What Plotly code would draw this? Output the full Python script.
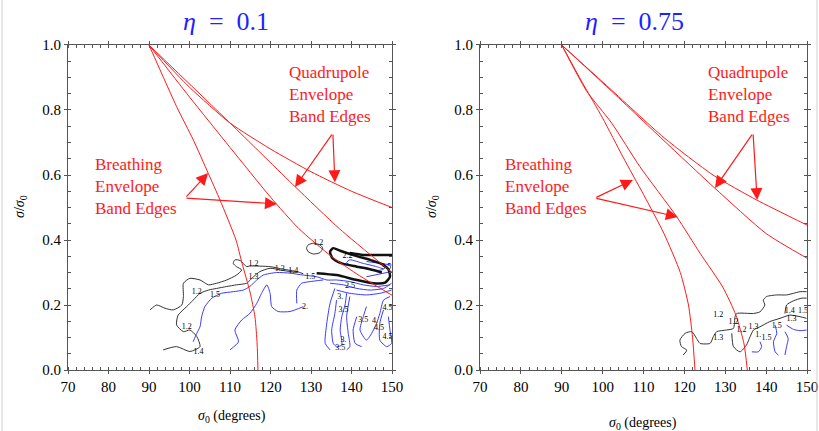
import plotly.graph_objects as go

# ---------------- data ----------------
# red band-edge curves, left panel (eta = 0.1)
L_BREATH1_X = [90, 96.84, 100.94, 104.64, 107.53, 111.48, 112.96, 114.94, 116.17, 116.7, 116.9]
L_BREATH1_Y = [1.0, 0.81, 0.708, 0.605, 0.523, 0.40, 0.329, 0.24, 0.163, 0.08, 0.0]
L_BREATH2_X = [90, 100, 110, 120, 127, 135, 142, 150]
L_BREATH2_Y = [1.0, 0.84, 0.685, 0.532, 0.435, 0.35, 0.29, 0.23]
L_QUAD1_X = [90, 110, 126, 137, 150]
L_QUAD1_Y = [1.0, 0.76, 0.565, 0.435, 0.30]
L_QUAD2_X = [90, 100, 110, 120, 130, 140, 150]
L_QUAD2_Y = [1.0, 0.87, 0.76, 0.68, 0.61, 0.55, 0.50]

# red band-edge curves, right panel (eta = 0.75)
R_BREATH1_X = [90, 95, 100, 105, 110, 115, 119, 121, 122, 122.6]
R_BREATH1_Y = [1.0, 0.885, 0.775, 0.655, 0.54, 0.42, 0.30, 0.20, 0.10, 0.0]
R_BREATH2_X = [90, 96, 102.2, 109.1, 118.1, 123.8, 129.4, 132.6, 134.6, 135.4]
R_BREATH2_Y = [1.0, 0.86, 0.76, 0.626, 0.472, 0.36, 0.255, 0.169, 0.08, 0.0]
R_QUAD1_X = [90, 101, 114.8, 127.5, 140, 150]
R_QUAD1_Y = [1.0, 0.872, 0.708, 0.559, 0.42, 0.344]
R_QUAD2_X = [90, 101, 115, 127, 137.7, 150]
R_QUAD2_Y = [1.0, 0.875, 0.715, 0.60, 0.523, 0.446]

# contour paths (x, y) pairs, left panel
LEFT_BLACK = [
    [(90.25, 0.185), (91.9, 0.20), (93.95, 0.19), (96.0, 0.185), (98.1, 0.20), (98.5, 0.226),
     (98.5, 0.267), (100.1, 0.282), (102.6, 0.277), (104.7, 0.262), (106.7, 0.267), (109.2, 0.277),
     (111.6, 0.292), (112.9, 0.308), (111.6, 0.318), (110.8, 0.328), (111.2, 0.339), (112.5, 0.337),
     (114.1, 0.318), (114.9, 0.32), (119.9, 0.318), (123.2, 0.31), (126.5, 0.303), (128.1, 0.296)],
    [(93.5, 0.062), (96.8, 0.072), (100.1, 0.057), (102.6, 0.072), (101.8, 0.103), (100.1, 0.123),
     (98.5, 0.118), (96.8, 0.139), (97.2, 0.169), (99.3, 0.195), (100.9, 0.215), (102.6, 0.236),
     (104.7, 0.246), (106.7, 0.251), (109.2, 0.257), (111.6, 0.262), (114.1, 0.267), (115.8, 0.287),
     (117.4, 0.303), (119.9, 0.313), (123.2, 0.306), (126.5, 0.30)],
    [(129.3, 0.385), (130.6, 0.39), (132.2, 0.385), (132.9, 0.375), (132.2, 0.361), (130.6, 0.357),
     (129.3, 0.364), (128.9, 0.375), (129.3, 0.385)],
]
LEFT_BLACK_THICK = [
    [(131.4, 0.298), (136.3, 0.292), (141.3, 0.277), (145.4, 0.267), (148.3, 0.269), (149.5, 0.287),
     (149.1, 0.31), (147.5, 0.326), (144.6, 0.339), (141.7, 0.349), (139.6, 0.357), (137.2, 0.367),
     (135.5, 0.375), (134.7, 0.364), (135.3, 0.344), (137.6, 0.328), (141.3, 0.318), (144.6, 0.31),
     (147.5, 0.30)],
    [(139.6, 0.36), (142.9, 0.354), (147.9, 0.354), (150.0, 0.354)],
]
LEFT_BLUE = [
    [(100.9, 0.087), (101.8, 0.113), (102.6, 0.133), (103.0, 0.164), (103.8, 0.195), (105.5, 0.221),
     (107.9, 0.236), (110.8, 0.241), (113.3, 0.246), (114.9, 0.257), (116.6, 0.277), (118.2, 0.292),
     (121.5, 0.30), (124.8, 0.298), (128.1, 0.292), (131.4, 0.287), (133.9, 0.277), (136.3, 0.277),
     (139.6, 0.272), (142.9, 0.262), (146.2, 0.257), (149.5, 0.262)],
    [(110.0, 0.062), (112.1, 0.087), (111.2, 0.123), (112.9, 0.154), (114.9, 0.174), (116.6, 0.205),
     (117.8, 0.236), (119.1, 0.262), (119.9, 0.236), (120.3, 0.195), (121.9, 0.18), (124.8, 0.18),
     (128.1, 0.195)],
    [(126.5, 0.205), (126.5, 0.246), (127.7, 0.267), (129.8, 0.272), (133.0, 0.277)],
    [(135.9, 0.251), (134.7, 0.205), (133.9, 0.144), (133.5, 0.082), (134.7, 0.062)],
    [(136.3, 0.215), (135.9, 0.174), (135.1, 0.123), (135.5, 0.082), (136.3, 0.072), (137.6, 0.077),
     (137.2, 0.123), (137.6, 0.164), (138.4, 0.20), (138.8, 0.236)],
    [(139.6, 0.226), (138.8, 0.164), (139.2, 0.113), (139.6, 0.072), (138.8, 0.062)],
    [(143.7, 0.195), (142.9, 0.164), (142.1, 0.123), (143.7, 0.092), (145.0, 0.113), (146.2, 0.144),
     (147.0, 0.174), (147.9, 0.215), (149.5, 0.226)],
    [(147.9, 0.185), (147.0, 0.144), (147.0, 0.092), (148.7, 0.072), (149.9, 0.082), (149.5, 0.123),
     (149.1, 0.164)],
    [(141.3, 0.164), (140.4, 0.123), (140.9, 0.082), (142.5, 0.072)],
    [(134.7, 0.267), (138.0, 0.262), (141.3, 0.251), (144.6, 0.246), (147.9, 0.251), (149.9, 0.267)],
    [(136.3, 0.246), (139.6, 0.236), (143.7, 0.231), (147.0, 0.236), (149.9, 0.246)],
    [(139.6, 0.339), (142.9, 0.328), (146.2, 0.318), (147.9, 0.31), (146.2, 0.306), (142.9, 0.313),
     (139.6, 0.323), (138.8, 0.331), (139.6, 0.339)],
    [(143.7, 0.334), (149.9, 0.323)],
    [(143.7, 0.287), (149.9, 0.303)],
]
LEFT_LABEL_X = [131.8, 139.0, 148.6, 139.6, 129.8, 122.3, 125.6, 115.8, 115.8, 101.8, 106.3, 99.3,
                102.2, 128.5, 137.2, 138.0, 142.9, 145.8, 146.8, 148.9, 148.9, 138.0, 137.2]
LEFT_LABEL_Y = [0.392, 0.352, 0.316, 0.257, 0.287, 0.312, 0.304, 0.325, 0.287, 0.241, 0.231, 0.133,
                0.056, 0.195, 0.226, 0.185, 0.154, 0.151, 0.128, 0.19, 0.103, 0.092, 0.067]
LEFT_LABEL_TEXT = ["1.2", "2.2", "3.5", "2.5", "1.5", "1.3", "1.4", "1.2", "1.3", "1.2", "1.5", "1.2",
                   "1.4", "2.", "3.", "3.5", "3.5", "4.", "4.5", "4.5", "4.5", "3.", "3.5"]

# contour paths, right panel
RIGHT_BLACK = [
    [(119.7, 0.046), (120.6, 0.061), (119.3, 0.072), (118.9, 0.092), (120.2, 0.113), (121.8, 0.118),
     (123.0, 0.097), (123.8, 0.082), (126.3, 0.082), (127.1, 0.103), (127.9, 0.118), (130.3, 0.123),
     (132.0, 0.128), (132.4, 0.164), (132.8, 0.174), (136.9, 0.174), (138.5, 0.179), (139.7, 0.20),
     (139.3, 0.215), (140.1, 0.226), (142.6, 0.231), (145.0, 0.231), (146.7, 0.236), (148.3, 0.241),
     (149.9, 0.241)],
    [(131.6, 0.113), (132.0, 0.072), (133.6, 0.056), (135.2, 0.077), (136.1, 0.103), (136.9, 0.123),
     (138.5, 0.133), (140.9, 0.149), (143.4, 0.159), (145.8, 0.169), (148.3, 0.164), (149.9, 0.159)],
    [(144.6, 0.174), (145.0, 0.20), (146.7, 0.213), (148.7, 0.221), (149.9, 0.221)],
]
RIGHT_BLUE = [
    [(136.5, 0.056), (138.1, 0.056), (138.9, 0.072), (138.5, 0.087)],
    [(142.2, 0.138), (142.6, 0.113), (141.8, 0.087), (142.2, 0.056), (143.0, 0.046)],
    [(144.6, 0.118), (145.4, 0.097), (145.0, 0.072), (144.6, 0.046)],
    [(145.0, 0.138), (146.7, 0.125), (148.3, 0.121), (149.9, 0.123)],
]
RIGHT_LABEL_X = [128.3, 132.0, 128.3, 134.0, 136.9, 138.1, 140.1, 142.6, 145.8, 149.0, 146.2]
RIGHT_LABEL_Y = [0.169, 0.149, 0.10, 0.123, 0.133, 0.108, 0.10, 0.135, 0.182, 0.182, 0.157]
RIGHT_LABEL_TEXT = ["1.2", "1.2", "1.3", "1.2", "1.3", "1.", "1.5", "1.5", "1.4", "1.5", "1.3"]

X_TICKS = [70, 80, 90, 100, 110, 120, 130, 140, 150]
Y_TICKS = [0.0, 0.2, 0.4, 0.6, 0.8, 1.0]

TITLES = ["<i>\u03b7</i>\u2002=\u20020.1", "<i>\u03b7</i>\u2002=\u20020.75"]
BAND_TEXT_Q = "Quadrupole<br>Envelope<br>Band Edges"
BAND_TEXT_B = "Breathing<br>Envelope<br>Band Edges"

# ---------------- figure ----------------
SERIF = "Times New Roman, Liberation Serif, Tinos, DejaVu Serif, serif"
RED = "#ff1a1a"
BLUE = "#3a3aff"
fig = go.Figure()


def add_line(xs, ys, xa, ya, color, width, shape="spline"):
    fig.add_trace(go.Scatter(x=xs, y=ys, mode="lines", xaxis=xa, yaxis=ya,
                             line=dict(color=color, width=width, shape=shape, smoothing=0.6),
                             hoverinfo="skip", showlegend=False))


def add_paths(paths, xa, ya, color, width):
    for p in paths:
        add_line([q[0] for q in p], [q[1] for q in p], xa, ya, color, width)


# left panel
add_paths(LEFT_BLUE, "x", "y", BLUE, 1)
add_paths(LEFT_BLACK, "x", "y", "#333333", 1)
add_paths(LEFT_BLACK_THICK, "x", "y", "#111111", 2.5)
for xs, ys in [(L_BREATH1_X, L_BREATH1_Y), (L_BREATH2_X, L_BREATH2_Y),
               (L_QUAD1_X, L_QUAD1_Y), (L_QUAD2_X, L_QUAD2_Y)]:
    add_line(xs, ys, "x", "y", RED, 1)
fig.add_trace(go.Scatter(x=LEFT_LABEL_X, y=LEFT_LABEL_Y, text=LEFT_LABEL_TEXT, mode="text",
                         textfont=dict(family=SERIF, size=8, color="black"), xaxis="x", yaxis="y",
                         hoverinfo="skip", showlegend=False))

# right panel
add_paths(RIGHT_BLUE, "x2", "y2", BLUE, 1)
add_paths(RIGHT_BLACK, "x2", "y2", "#333333", 1)
for xs, ys in [(R_BREATH1_X, R_BREATH1_Y), (R_BREATH2_X, R_BREATH2_Y),
               (R_QUAD1_X, R_QUAD1_Y), (R_QUAD2_X, R_QUAD2_Y)]:
    add_line(xs, ys, "x2", "y2", RED, 1)
fig.add_trace(go.Scatter(x=RIGHT_LABEL_X, y=RIGHT_LABEL_Y, text=RIGHT_LABEL_TEXT, mode="text",
                         textfont=dict(family=SERIF, size=8, color="black"), xaxis="x2", yaxis="y2",
                         hoverinfo="skip", showlegend=False))

AX = "#555555"


def xaxis_style(domain, anchor):
    return dict(domain=domain, anchor=anchor, range=[70, 150], tickvals=X_TICKS, ticks="outside",
                ticklen=3, tickcolor=AX, showline=True, linecolor=AX, linewidth=1, mirror="ticks",
                showgrid=False, zeroline=False,
                minor=dict(dtick=2, tick0=70, ticks="inside", ticklen=3, tickcolor=AX),
                tickfont=dict(family=SERIF, size=15, color="black"))


def yaxis_style(anchor):
    return dict(domain=[0.1415, 0.8956], range=[0, 1], tickvals=Y_TICKS, tickformat=".1f",
                ticks="outside", ticklen=3, tickcolor=AX, showline=True, linecolor=AX, linewidth=1,
                mirror="ticks", showgrid=False, zeroline=False, anchor=anchor,
                minor=dict(dtick=0.05, tick0=0, ticks="inside", ticklen=3, tickcolor=AX),
                tickfont=dict(family=SERIF, size=15, color="black"))


annotations = []
# titles
for title, xc in zip(TITLES, [226, 634]):
    annotations.append(dict(text=title, x=xc / 819, y=1 - 21 / 431, xref="paper", yref="paper",
                            xanchor="center", yanchor="middle", showarrow=False,
                            font=dict(family=SERIF, size=26, color="#1f1fff")))
# axis titles
for xc, yc in [(20, 207), (432, 207)]:
    annotations.append(dict(text="<i>\u03c3</i>/<i>\u03c3</i><sub>0</sub>", x=xc / 819, y=1 - yc / 431,
                            xref="paper", yref="paper", xanchor="center", yanchor="middle",
                            showarrow=False, textangle=-90,
                            font=dict(family=SERIF, size=14, color="black")))
for xc, yc in [(232, 416), (643, 423)]:
    annotations.append(dict(text="<i>\u03c3</i><sub>0</sub> (degrees)", x=xc / 819, y=1 - yc / 431,
                            xref="paper", yref="paper", xanchor="center", yanchor="middle",
                            showarrow=False, font=dict(family=SERIF, size=14, color="black")))

# band-edge labels
for xr, yr, xq, xb in [("x", "y", 124.07, 76.17), ("x2", "y2", 125.29, 75.63)]:
    annotations.append(dict(text=BAND_TEXT_Q, x=xq, y=0.849, xref=xr, yref=yr, xanchor="left",
                            yanchor="middle", align="left", showarrow=False,
                            font=dict(family=SERIF, size=17, color=RED)))
    annotations.append(dict(text=BAND_TEXT_B, x=xb, y=0.566, xref=xr, yref=yr, xanchor="left",
                            yanchor="middle", align="left", showarrow=False,
                            font=dict(family=SERIF, size=17, color=RED)))

# arrows (tail -> head) in data coordinates
ARROWS = [
    ("x", "y", 135.4, 0.729, 126.05, 0.563),
    ("x", "y", 135.4, 0.729, 135.9, 0.578),
    ("x", "y", 98.9, 0.529, 104.6, 0.606),
    ("x", "y", 98.9, 0.529, 121.6, 0.511),
    ("x2", "y2", 136.8, 0.729, 127.5, 0.56),
    ("x2", "y2", 136.8, 0.729, 137.8, 0.523),
    ("x2", "y2", 98.1, 0.529, 107.4, 0.585),
    ("x2", "y2", 98.1, 0.529, 118.4, 0.471),
]
for xr, yr, ax_, ay_, hx, hy in ARROWS:
    annotations.append(dict(text="", x=hx, y=hy, ax=ax_, ay=ay_, xref=xr, yref=yr, axref=xr, ayref=yr,
                            showarrow=True, arrowhead=2, arrowsize=2, arrowwidth=1.2, arrowcolor=RED,
                            standoff=0, startstandoff=0))

fig.update_layout(
    width=819, height=431, margin=dict(l=0, r=0, t=0, b=0, autoexpand=False),
    paper_bgcolor="white", plot_bgcolor="white", showlegend=False,
    font=dict(family=SERIF),
    xaxis=xaxis_style([68 / 819, 392 / 819], "y"),
    yaxis=yaxis_style("x"),
    xaxis2=xaxis_style([480 / 819, 807 / 819], "y2"),
    yaxis2=yaxis_style("x2"),
    annotations=annotations,
    shapes=[dict(type="line", xref="paper", yref="paper", x0=2 / 819, x1=2 / 819, y0=0, y1=1,
                 line=dict(color="#d0d0d0", width=1)),
            dict(type="line", xref="paper", yref="paper", x0=817 / 819, x1=817 / 819, y0=0, y1=1,
                 line=dict(color="#d0d0d0", width=1))],
)

fig.write_html("out.html", config={"responsive": False, "displayModeBar": False},
               post_script="document.body.style.margin='0';document.body.style.overflow='hidden';")
